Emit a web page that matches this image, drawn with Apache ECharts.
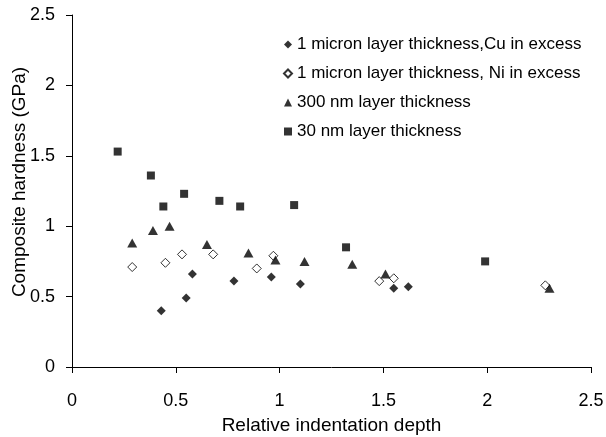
<!DOCTYPE html>
<html>
<head>
<meta charset="utf-8">
<script src="https://cdn.jsdelivr.net/npm/echarts@6/dist/echarts.min.js"></script>
<style>
  html, body { margin: 0; padding: 0; background: #fff; }
  #chart { width: 606px; height: 437px; }
</style>
</head>
<body>
<div id="chart"></div>
<script>
// legend names
const seriesNames = [
  '1 micron layer thickness,Cu in excess',
  '1 micron layer thickness, Ni in excess',
  '300 nm layer thickness',
  '30 nm layer thickness'
]

// [relative indentation depth, composite hardness GPa]
const cuExcess = [
  [0.43, 0.40], [0.55, 0.49], [0.58, 0.66], [0.78, 0.61],
  [0.96, 0.64], [1.10, 0.59], [1.55, 0.56], [1.62, 0.57]
]
const niExcess = [
  [0.29, 0.71], [0.45, 0.74], [0.53, 0.80], [0.68, 0.80], [0.89, 0.70],
  [0.97, 0.79], [1.48, 0.61], [1.55, 0.63], [2.28, 0.58]
]
const nm300 = [
  [0.29, 0.88], [0.39, 0.97], [0.47, 1.00], [0.65, 0.87], [0.85, 0.81],
  [0.98, 0.76], [1.12, 0.75], [1.35, 0.73], [1.51, 0.66], [2.30, 0.56]
]
const nm30 = [
  [0.22, 1.53], [0.38, 1.36], [0.44, 1.14], [0.54, 1.23], [0.71, 1.18],
  [0.81, 1.14], [1.07, 1.15], [1.32, 0.85], [1.99, 0.75]
]

const xTicks = { min: 0, max: 2.5, interval: 0.5 }
const yTicks = { min: 0, max: 2.5, interval: 0.5 }

const font = 'Liberation Sans, Arial, sans-serif'
const chart = echarts.init(document.getElementById('chart'))

const axisCommon = {
  axisLine: { show: true, lineStyle: { color: '#000', width: 1 } },
  axisTick: { show: true, inside: false, length: 6, lineStyle: { color: '#000' } },
  splitLine: { show: false },
  axisLabel: { color: '#000', fontSize: 18, fontFamily: font },
  nameTextStyle: { color: '#000', fontSize: 19, fontFamily: font },
  nameMoveOverlap: false
}

chart.setOption({
  animation: false,
  backgroundColor: '#fff',
  grid: { left: 72, right: 15, top: 15, bottom: 70, containLabel: false, outerBoundsMode: 'none' },
  legend: {
    orient: 'vertical',
    left: 278,
    top: 31,
    itemWidth: 8,
    itemHeight: 8,
    itemGap: 12,
    textStyle: { color: '#000', fontSize: 17, fontFamily: font },
    data: seriesNames
  },
  xAxis: {
    type: 'value',
    ...xTicks,
    ...axisCommon,
    axisLabel: { ...axisCommon.axisLabel, margin: 25 },
    name: 'Relative indentation depth',
    nameLocation: 'middle',
    nameGap: 49
  },
  yAxis: {
    type: 'value',
    ...yTicks,
    ...axisCommon,
    axisLabel: { ...axisCommon.axisLabel, margin: 17 },
    name: 'Composite hardness (GPa)',
    nameLocation: 'middle',
    nameGap: 43,
    nameTextStyle: { ...axisCommon.nameTextStyle, padding: [0, 0, 0, 18] }
  },
  series: [
    {
      name: seriesNames[0], type: 'scatter', data: cuExcess,
      symbol: 'diamond', symbolSize: 9,
      itemStyle: { color: '#000' }
    },
    {
      name: seriesNames[1], type: 'scatter', data: niExcess,
      symbol: 'diamond', symbolSize: 9,
      itemStyle: { color: '#fff', borderColor: '#000', borderWidth: 1 }
    },
    {
      name: seriesNames[2], type: 'scatter', data: nm300,
      symbol: 'triangle', symbolSize: [10, 9],
      itemStyle: { color: '#000' }
    },
    {
      name: seriesNames[3], type: 'scatter', data: nm30,
      symbol: 'rect', symbolSize: 8,
      itemStyle: { color: '#000' }
    }
  ]
})
</script>
</body>
</html>
